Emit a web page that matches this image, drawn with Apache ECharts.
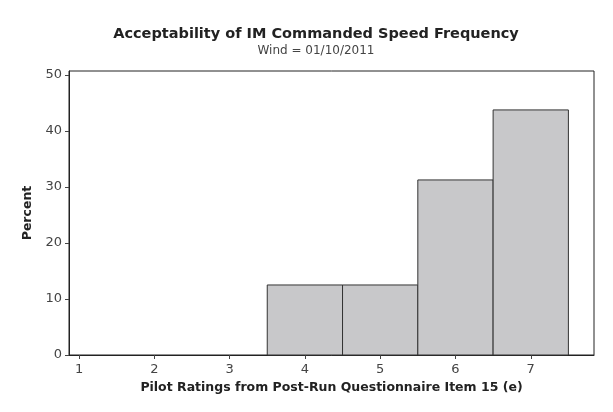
<!DOCTYPE html>
<html>
<head>
<meta charset="utf-8">
<script src="https://cdn.jsdelivr.net/npm/echarts@6/dist/echarts.min.js"></script>
<style>
  html, body { margin: 0; padding: 0; background: #fff; }
  #chart { width: 613px; height: 412px; }
</style>
</head>
<body>
<div id="chart"></div>
<script>
// histogram data: rating -> percent of pilots
const ratings = [4, 5, 6, 7];
const percents = [12.5, 12.5, 31.25, 43.75];
const xTicks = [1, 2, 3, 4, 5, 6, 7];
const yTicks = [0, 10, 20, 30, 40, 50];

const chart = echarts.init(document.getElementById('chart'));

const font = 'DejaVu Sans';

const option = {
  animation: false,
  backgroundColor: '#fff',
  title: {
    text: 'Acceptability of IM Commanded Speed Frequency',
    subtext: 'Wind = 01/10/2011',
    left: 311,
    textAlign: 'center',
    top: 22,
    itemGap: 3,
    textStyle: { fontFamily: font, fontSize: 14.5, fontWeight: 'bold', color: '#222' },
    subtextStyle: { fontFamily: font, fontSize: 12, color: '#444' }
  },
  grid: {
    left: 69,
    right: 19,
    top: 71,
    bottom: 57,
    show: true,
    borderColor: '#222',
    borderWidth: 1,
    backgroundColor: '#fff'
  },
  xAxis: {
    type: 'value',
    min: 0.867,
    max: 7.84,
    name: 'Pilot Ratings from Post-Run Questionnaire Item 15 (e)',
    nameLocation: 'middle',
    nameGap: 26,
    nameTextStyle: { fontFamily: font, fontSize: 12.5, fontWeight: 'bold', color: '#222' },
    axisLine: { lineStyle: { color: '#222', width: 1 } },
    axisTick: { show: true, length: 4, customValues: xTicks, lineStyle: { color: '#444' } },
    axisLabel: { customValues: xTicks, fontFamily: font, fontSize: 13, color: '#444', margin: 8 },
    splitLine: { show: false }
  },
  yAxis: {
    type: 'value',
    min: 0,
    max: 50.7,
    name: 'Percent',
    nameLocation: 'middle',
    nameGap: 31,
    nameTextStyle: { fontFamily: font, fontSize: 12.5, fontWeight: 'bold', color: '#222' },
    axisLine: { show: true, lineStyle: { color: '#222', width: 1 } },
    axisTick: { show: true, length: 4, customValues: yTicks, lineStyle: { color: '#444' } },
    axisLabel: { customValues: yTicks, fontFamily: font, fontSize: 13, color: '#444', margin: 7 },
    splitLine: { show: false }
  },
  series: [
    {
      type: 'custom',
      data: ratings.map((r, i) => [r, percents[i]]),
      renderItem: (params, api) => {
        const x = api.value(0);
        const y = api.value(1);
        const p0 = api.coord([x - 0.5, y]);
        const p1 = api.coord([x + 0.5, 0]);
        return {
          type: 'rect',
          shape: { x: p0[0], y: p0[1], width: p1[0] - p0[0], height: p1[1] - p0[1] },
          style: { fill: '#c8c8ca', stroke: '#333', lineWidth: 1 }
        };
      }
    }
  ]
};

chart.setOption(option);
</script>
</body>
</html>
